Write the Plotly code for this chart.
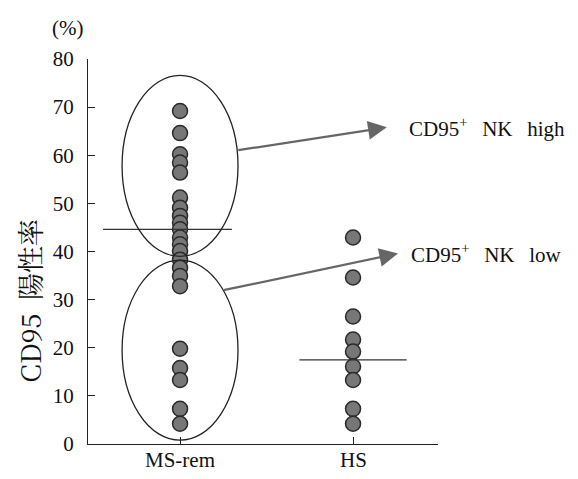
import plotly.graph_objects as go

# ---- data ----
categories = ["MS-rem", "HS"]
ms_rem_values = [69.2, 64.6, 60.2, 58.5, 56.4,
                 51.2, 49.1, 47.4, 46.0, 44.6, 42.9, 41.5, 40.1, 38.3, 36.6, 34.9, 32.8,
                 19.8, 15.8, 13.3, 7.3, 4.2]
hs_values = [42.9, 34.6, 26.5, 21.7, 19.2, 16.1, 13.3, 7.3, 4.2]
group_lines = [44.6, 17.5]
y_ticks = [0, 10, 20, 30, 40, 50, 60, 70, 80]

SERIF = "Liberation Serif, Times New Roman, serif"
DOT_FILL = "#777777"
DOT_EDGE = "#2a2a2a"
ENSP = "\u2002"
GAP = ENSP + "\u2009"

fig = go.Figure()
series = [ms_rem_values, hs_values]
for i, vals in enumerate(series):
    fig.add_trace(go.Scatter(
        x=[i + 1] * len(vals), y=vals, mode="markers",
        marker=dict(size=15, color=DOT_FILL, line=dict(color=DOT_EDGE, width=1.5)),
        showlegend=False, hoverinfo="y"))

# group reference lines
line_extents = [(0.555, 1.30), (1.69, 2.31)]
for (x0, x1), yv in zip(line_extents, group_lines):
    fig.add_shape(type="line", xref="x", yref="y", x0=x0, x1=x1, y0=yv, y1=yv,
                  line=dict(color="#333", width=1.3), layer="above")

# ellipses
fig.add_shape(type="circle", xref="x", yref="y", x0=0.665, x1=1.335, y0=39.0, y1=76.6,
              line=dict(color="#222", width=1.3))
fig.add_shape(type="circle", xref="x", yref="y", x0=0.665, x1=1.335, y0=0.8, y1=38.2,
              line=dict(color="#222", width=1.3))

# arrows
arrows = [((2.195, 65.8), (1.328, 61.0)), ((2.26, 39.6), (1.243, 31.9))]
for (tx, ty), (sx, sy) in arrows:
    fig.add_annotation(x=tx, y=ty, ax=sx, ay=sy, xref="x", yref="y", axref="x", ayref="y",
                       text="", showarrow=True, arrowhead=2, arrowsize=1.7, arrowwidth=2.2,
                       arrowcolor="#666")

labels = [("CD95<sup>+</sup>" + GAP + "NK" + GAP + "high", 2.310, 65.8),
          ("CD95<sup>+</sup>" + GAP + "NK" + GAP + "low", 2.322, 39.6)]
for txt, x, y in labels:
    fig.add_annotation(x=x, y=y, xref="x", yref="y", text=txt, showarrow=False,
                       xanchor="left", yanchor="middle",
                       font=dict(family=SERIF, size=21, color="#111"))

# category labels under the axis
for i, cat in enumerate(categories):
    fig.add_annotation(x=i + 1, y=0, xref="x", yref="paper", text=cat, showarrow=False,
                       xanchor="center", yanchor="middle", yshift=-16,
                       font=dict(family=SERIF, size=21, color="#111"))

fig.add_annotation(x=-0.06, y=1.0817, xref="paper", yref="paper", text="(%)",
                   showarrow=False, xanchor="center", yanchor="middle",
                   font=dict(family=SERIF, size=21, color="#111"))
fig.add_annotation(x=-0.166, y=0.372, xref="paper", yref="paper",
                   text="CD95" + ENSP + "陽性率",
                   textangle=-90, showarrow=False, xanchor="center", yanchor="middle",
                   font=dict(family="Noto Serif CJK JP, Noto Sans CJK JP, serif", size=27, color="#111"))

fig.update_layout(
    width=562, height=463,
    margin=dict(l=80, r=132, t=50.5, b=27),
    paper_bgcolor="white", plot_bgcolor="white",
    xaxis=dict(range=[0.468, 2.491], tickvals=[1, 2], showticklabels=False,
               automargin=False,
               showgrid=False, zeroline=False, showline=True, linecolor="#222", linewidth=1.3,
               ticks="inside", ticklen=7, tickcolor="#222"),
    yaxis=dict(range=[0, 80], tickvals=y_ticks, automargin=False,
               showgrid=False, zeroline=False, showline=True, linecolor="#222", linewidth=1.3,
               ticks="inside", ticklen=7, tickcolor="#222", ticklabelstandoff=9,
               tickfont=dict(family=SERIF, size=21, color="#111")),
)

fig.write_html("out.html")
